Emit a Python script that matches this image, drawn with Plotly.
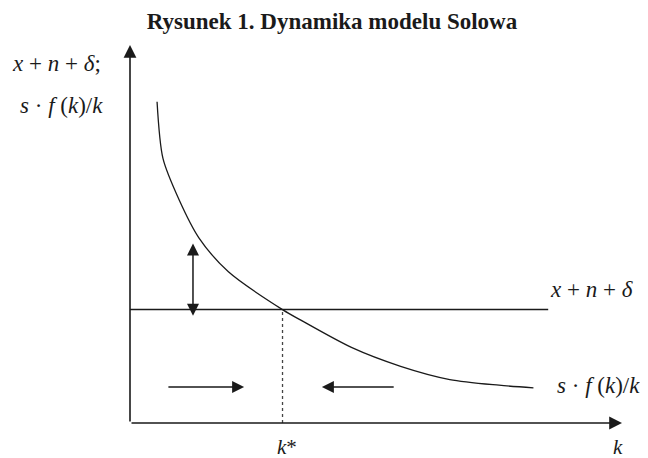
import plotly.graph_objects as go

# Solow model dynamics (arbitrary units)
k_vals = [0.55, 0.67, 1.0, 1.4, 2.0, 3.1, 3.5, 4.5, 5.5, 6.5, 7.5, 8.2]
sfk_vals = [8.5, 7.0, 5.9, 4.9, 4.0, 3.0, 2.7, 2.0, 1.5, 1.15, 1.0, 0.93]

line_level = 3.0        # x + n + delta
line_end = 8.5
k_star = 3.1

# helper arrows: (x_tail, y_tail, x_head, y_head)
arrow_right = (0.75, 0.95, 2.32, 0.95)
arrow_left = (5.39, 0.95, 3.9, 0.95)
arrow_vert = (1.28, 2.8, 1.28, 4.75)

x_max = 10
y_max = 10

SERIF = "Liberation Serif, Times New Roman, serif"
INK = "#1a1a1a"

fig = go.Figure()

fig.add_trace(go.Scatter(
    x=k_vals, y=sfk_vals, mode="lines",
    line=dict(color=INK, width=1.3, shape="spline", smoothing=0.8),
    hoverinfo="skip",
))
fig.add_trace(go.Scatter(
    x=[0, line_end], y=[line_level, line_level], mode="lines",
    line=dict(color=INK, width=1.5), hoverinfo="skip",
))
fig.add_trace(go.Scatter(
    x=[k_star, k_star], y=[0, line_level], mode="lines",
    line=dict(color="#444", width=1.3, dash="dot"), hoverinfo="skip",
))

def arrow(x0, y0, x1, y1, side="end", width=1.5):
    fig.add_annotation(
        x=x1, y=y1, ax=x0, ay=y0, xref="x", yref="y", axref="x", ayref="y",
        text="", showarrow=True, arrowhead=2, arrowsize=1.6,
        arrowwidth=width, arrowcolor=INK, arrowside=side,
    )

# axes
arrow(0, 0, 0, y_max, width=1.6)
arrow(0, 0, x_max, 0, width=1.6)

arrow(*arrow_right)
arrow(*arrow_left)
arrow(*arrow_vert, side="end+start")

def label(x, y, text, xanchor="left", xshift=0, yshift=0, size=23):
    fig.add_annotation(
        x=x, y=y, xref="x", yref="y", text=text, showarrow=False,
        xanchor=xanchor, yanchor="middle", xshift=xshift, yshift=yshift,
        font=dict(family=SERIF, size=size, color=INK),
    )

sp = "&nbsp;"
xnd = f"<i>x</i>{sp}+{sp}<i>n</i>{sp}+{sp}<i>δ</i>"
sfk = f"<i>s</i>{sp}·{sp}<i>f</i>{sp}(<i>k</i>)/<i>k</i>"

label(0, 9.5, xnd + ";", xanchor="right", xshift=-27)
label(0, 8.4, sfk, xanchor="right", xshift=-25)
label(8.5, 3.52, xnd)
label(8.64, 1.0, sfk)
label(k_star, 0, "<i>k</i>*", xanchor="center", xshift=4, yshift=-24, size=21)
label(9.92, 0, "<i>k</i>", xanchor="center", yshift=-24, size=21)

# page body adds an 8px margin, so the figure is 8px smaller each way
fig.update_layout(
    width=640, height=450,
    margin=dict(l=122, r=26, t=37, b=35),
    paper_bgcolor="white", plot_bgcolor="white",
    showlegend=False,
    title=dict(
        text="<b>Rysunek 1. Dynamika modelu Solowa</b>",
        x=324 / 640, xanchor="center", y=1 - 13 / 450, yanchor="middle",
        font=dict(family=SERIF, size=23, color=INK),
    ),
)
fig.update_xaxes(range=[0, x_max], visible=False)
fig.update_yaxes(range=[0, y_max], visible=False)

fig.write_html("out.html")
